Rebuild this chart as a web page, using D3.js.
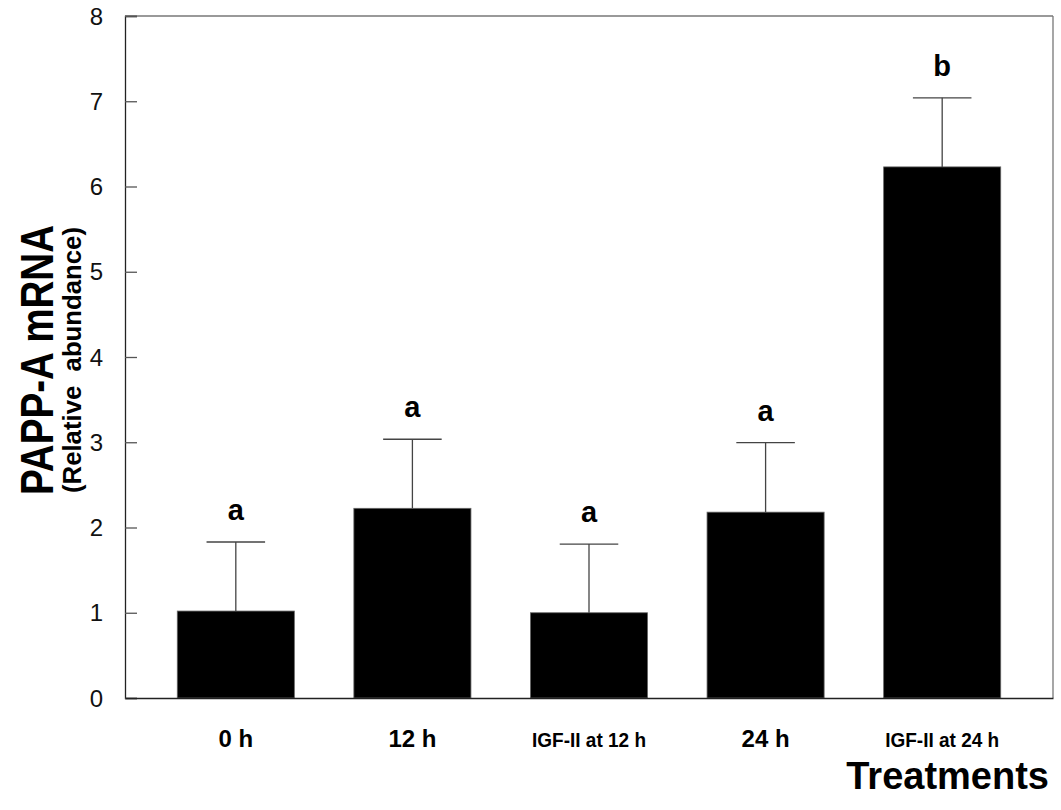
<!DOCTYPE html>
<html>
<head>
<meta charset="utf-8">
<script src="https://cdn.jsdelivr.net/npm/d3@7"></script>
<style>
  html, body { margin: 0; padding: 0; background: #fff; }
  svg { display: block; font-family: Arial, "Liberation Sans", sans-serif; }
</style>
</head>
<body>
<svg id="chart" width="1061" height="810"></svg>
<script>
const categories = ["0 h", "12 h", "IGF-II at 12 h", "24 h", "IGF-II at 24 h"];
const means = [1.02, 2.225, 1.00, 2.18, 6.23];
const errors = [0.81, 0.81, 0.805, 0.815, 0.81];
const sigLetters = ["a", "a", "a", "a", "b"];
const yTicks = [0, 1, 2, 3, 4, 5, 6, 7, 8];

(function () {
const svg = d3.select("#chart");
const pL = 125, pR = 1053, pT = 16, pB = 698;

const x = d3.scaleBand().domain(categories).range([pL, pR])
  .paddingInner(0.337).paddingOuter(0.296);
const y = d3.scaleLinear().domain([0, 8]).range([pB, pT]);

// frame (top & right)
svg.append("line").attr("x1", pL).attr("x2", pR).attr("y1", pT).attr("y2", pT)
  .attr("stroke", "#777").attr("stroke-width", 1.3);
svg.append("line").attr("x1", pR).attr("x2", pR).attr("y1", pT).attr("y2", pB)
  .attr("stroke", "#777").attr("stroke-width", 1.3);

// bars
const data = categories.map((c, i) => ({ c, m: means[i], e: errors[i], s: sigLetters[i] }));
svg.append("g").selectAll("rect").data(data).join("rect")
  .attr("x", d => x(d.c)).attr("width", x.bandwidth())
  .attr("y", d => y(d.m)).attr("height", d => y(0) - y(d.m))
  .attr("fill", "#000").attr("stroke", "#666").attr("stroke-width", 0.8);

// error bars
const eb = svg.append("g").attr("stroke", "#444").attr("stroke-width", 1.3);
const capHalf = x.bandwidth() * 0.25;
data.forEach(d => {
  const cx = x(d.c) + x.bandwidth() / 2;
  eb.append("line").attr("x1", cx).attr("x2", cx).attr("y1", y(d.m)).attr("y2", y(d.m + d.e));
  eb.append("line").attr("x1", cx - capHalf).attr("x2", cx + capHalf)
    .attr("y1", y(d.m + d.e)).attr("y2", y(d.m + d.e));
});

// significance letters
svg.append("g").selectAll("text").data(data).join("text")
  .attr("x", d => x(d.c) + x.bandwidth() / 2)
  .attr("y", d => y(d.m + d.e) - 22)
  .attr("text-anchor", "middle").attr("font-weight", "bold").attr("font-size", 29)
  .text(d => d.s);

// y axis
const yAxis = d3.axisRight(y).tickValues(yTicks).tickSize(12).tickFormat("");
const ya = svg.append("g").attr("transform", `translate(${pL},0)`).call(yAxis);
ya.select(".domain").attr("stroke", "#222").attr("stroke-width", 1.3);
ya.selectAll(".tick line").attr("stroke", "#555").attr("stroke-width", 1.3);
svg.append("g").selectAll("text").data(yTicks).join("text")
  .attr("x", 103).attr("y", d => y(d)).attr("dy", "0.36em")
  .attr("text-anchor", "end").attr("font-size", 24).attr("fill", "#111")
  .text(d => d);

// x axis (baseline)
const xAxis = d3.axisBottom(x).tickSize(0).tickFormat("");
const xa = svg.append("g").attr("transform", `translate(0,${pB})`).call(xAxis);
xa.select(".domain").attr("stroke", "#222").attr("stroke-width", 1.3);

// x labels
svg.append("g").selectAll("text").data(categories).join("text")
  .attr("x", d => x(d) + x.bandwidth() / 2).attr("y", 747)
  .attr("text-anchor", "middle").attr("font-weight", "bold")
  .attr("font-size", d => d.startsWith("IGF") ? 21 : 24)
  .each(function (d) {
    if (d.startsWith("IGF")) d3.select(this).attr("textLength", 114).attr("lengthAdjust", "spacingAndGlyphs");
  })
  .text(d => d);

// axis titles
svg.append("text").attr("transform", "translate(53,360) rotate(-90)")
  .attr("text-anchor", "middle").attr("font-weight", "bold").attr("font-size", 47)
  .attr("textLength", 270).attr("lengthAdjust", "spacingAndGlyphs")
  .text("PAPP-A mRNA");
svg.append("text").attr("transform", "translate(81,360) rotate(-90)")
  .attr("text-anchor", "middle").attr("font-weight", "bold").attr("font-size", 25)
  .attr("textLength", 266).attr("lengthAdjust", "spacingAndGlyphs")
  .style("white-space", "pre")
  .text("(Relative  abundance)");

svg.append("text").attr("x", 1049).attr("y", 789)
  .attr("text-anchor", "end").attr("font-weight", "bold").attr("font-size", 38)
  .text("Treatments");
})();
</script>
</body>
</html>
